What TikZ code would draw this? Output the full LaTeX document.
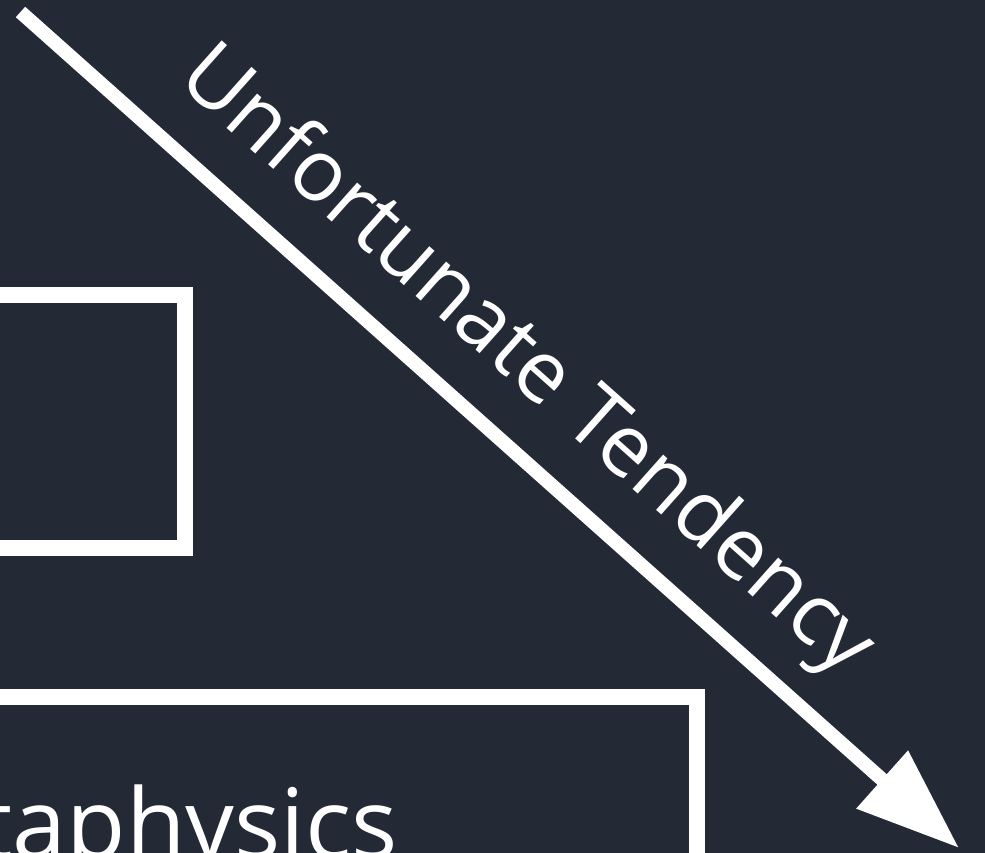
\documentclass[tikz,border=0pt]{standalone}
\usepackage{fontspec}
\setmainfont{Open Sans}
\usetikzlibrary{arrows.meta}
\definecolor{bgc}{HTML}{232A35}
\tikzset{
  frame/.style={draw=white, line width=16pt, rectangle, inner sep=0pt},
  tendency/.style={draw=white, line width=14pt, -{Triangle[length=103pt,width=74pt]}},
  bigtext/.style={text=white, inner sep=0pt, font=\fontsize{86}{100}\selectfont},
}
\begin{document}
\begin{tikzpicture}[x=1pt,y=-1pt]
\useasboundingbox (0,0) rectangle (985,853);
\clip (0,0) rectangle (985,853);
\fill[bgc] (-50,-50) rectangle (1100,1000);
\node[frame, minimum width=284.5pt, minimum height=253pt] (box1) at (42.25,421.5) {};
\node[frame, minimum width=797pt, minimum height=303pt] (box2) at (298.5,848.5) {};
\node[bigtext, anchor=base east, font=\fontsize{97}{110}\selectfont] (meta) at (398,858) {Metaphysics};
\coordinate (s) at (20.5,12);
\coordinate (e) at (959,848);
\draw[tendency] (s) -- (e);
\node[bigtext, anchor=base, rotate=-41.68] (lab) at (510,380) {Unfortunate Tendency};
\end{tikzpicture}
\end{document}
